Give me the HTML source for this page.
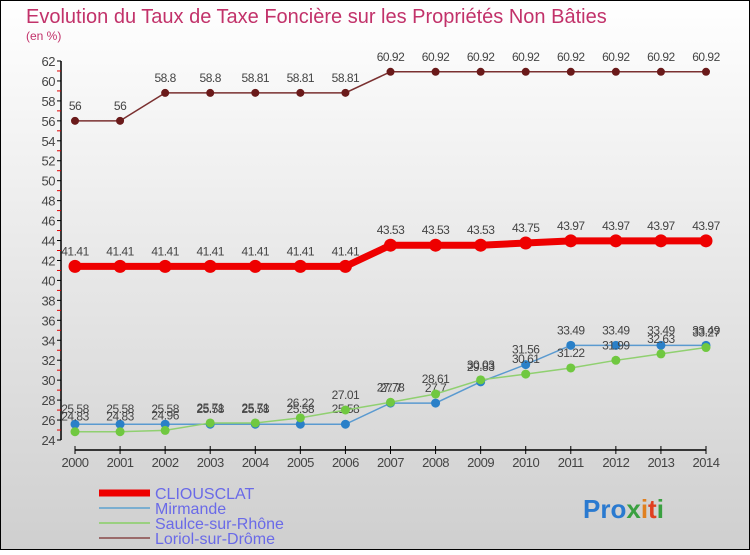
<!DOCTYPE html>
<html><head><meta charset="utf-8"><style>
html,body{margin:0;padding:0}
body{width:750px;height:550px;overflow:hidden;font-family:"Liberation Sans",sans-serif}
</style></head><body>
<svg id="chart" width="750" height="550" xmlns="http://www.w3.org/2000/svg" font-family="Liberation Sans, sans-serif">
<defs>
<linearGradient id="bg" x1="0" y1="0" x2="0" y2="1">
<stop offset="0" stop-color="#ffffff"/><stop offset="1" stop-color="#cfcfcf"/>
</linearGradient>
</defs>
<rect x="0.5" y="0.5" width="749" height="549" fill="url(#bg)" stroke="#000"/>
<text x="26" y="23" font-size="20" fill="#c2326a">Evolution du Taux de Taxe Foncière sur les Propriétés Non Bâties</text>
<text x="26" y="40" font-size="12" fill="#c2326a">(en %)</text>
<g id="axes"></g>
<g id="series"></g>
<g id="legend">
<line x1="99" y1="493" x2="150" y2="493" stroke="#ee0000" stroke-width="7"/>
<text x="155" y="499" font-size="16" fill="#6a6ae8">CLIOUSCLAT</text>
<line x1="99" y1="508" x2="150" y2="508" stroke="#7aaed0" stroke-width="2"/>
<text x="155" y="514" font-size="16" fill="#6a6ae8">Mirmande</text>
<line x1="99" y1="523" x2="150" y2="523" stroke="#9ad080" stroke-width="2"/>
<text x="155" y="529" font-size="16" fill="#6a6ae8">Saulce-sur-Rhône</text>
<line x1="99" y1="538" x2="150" y2="538" stroke="#9a6a6a" stroke-width="2"/>
<text x="155" y="544" font-size="16" fill="#6a6ae8">Loriol-sur-Drôme</text>
</g>
<text x="583" y="518" font-size="26" font-weight="bold"><tspan fill="#2a7ad0">Pro</tspan><tspan fill="#3aa040">x</tspan><tspan fill="#e08020">i</tspan><tspan fill="#e04020">t</tspan><tspan fill="#3aa040">i</tspan></text>
</svg>
<script>
const years = [2000,2001,2002,2003,2004,2005,2006,2007,2008,2009,2010,2011,2012,2013,2014];
const cliousclat = [41.41,41.41,41.41,41.41,41.41,41.41,41.41,43.53,43.53,43.53,43.75,43.97,43.97,43.97,43.97];
const mirmande = [25.58,25.58,25.58,25.58,25.58,25.58,25.58,27.7,27.7,29.83,31.56,33.49,33.49,33.49,33.49];
const saulce = [24.83,24.83,24.96,25.71,25.71,26.22,27.01,27.78,28.61,30.03,30.61,31.22,31.99,32.63,33.27];
const loriol = [56,56,58.8,58.8,58.81,58.81,58.81,60.92,60.92,60.92,60.92,60.92,60.92,60.92,60.92];
const yTicks = [24,26,28,30,32,34,36,38,40,42,44,46,48,50,52,54,56,58,60,62];

const NS="http://www.w3.org/2000/svg";
const x = i => 75 + i*(706-75)/(years.length-1);
const y = v => 440 - (v-24)*(440-61)/(62-24);
function mk(tag, attrs, parent){const e=document.createElementNS(NS,tag);for(const k in attrs)e.setAttribute(k,attrs[k]);parent.appendChild(e);return e;}
const axes=document.getElementById('axes'), ser=document.getElementById('series');

const ya=mk('line',{x1:61,y1:61,x2:61,y2:440,stroke:'#000','stroke-width':1.5},axes);


yTicks.forEach(t=>{
  mk('line',{x1:57,y1:y(t),x2:61,y2:y(t),stroke:'#000'},axes);
  if(t<62) mk('line',{x1:57,y1:y(t+1),x2:61,y2:y(t+1),stroke:'#e00000'},axes);
  const tl=mk('text',{x:55,y:y(t)+5,'font-size':13,'text-anchor':'end',fill:'#444','letter-spacing':'-0.5'},axes);
  tl.textContent=t;
  
  
});
const xa=mk('line',{x1:75,y1:450,x2:706,y2:450,stroke:'#000','stroke-width':1.5},axes);


years.forEach((yr,i)=>{
  mk('line',{x1:x(i),y1:446,x2:x(i),y2:454,stroke:'#000'},axes);
  const tl=mk('text',{x:x(i),y:467,'font-size':13,'text-anchor':'middle',fill:'#444','letter-spacing':'-0.5'},axes);
  tl.textContent=yr;
  
  
});

function drawSeries(vals,name,color,lw,r,dot){
  const g=mk('g',{},ser);
  
  
  const ln=mk('polyline',{points:vals.map((v,i)=>x(i)+','+y(v)).join(' '),fill:'none',stroke:color,'stroke-width':lw},g);
  
  
  vals.forEach((v,i)=>{
    const c=mk('circle',{cx:x(i),cy:y(v),r:r,fill:dot},g);
    
    
    const t=mk('text',{x:x(i),y:y(v)-11,'font-size':12,'text-anchor':'middle',fill:'#444','letter-spacing':'-0.5'},g);
    t.textContent=v;
    
    
  });
}
drawSeries(loriol,'loriol','#7a3030',1.5,4,'#6a1a1a');
drawSeries(mirmande,'mirmande','#5a9ad0',1.5,4.5,'#2a80c8');
drawSeries(saulce,'saulce','#90d070',1.5,4.5,'#70c840');
drawSeries(cliousclat,'cliousclat','#ee0000',7,6.5,'#ee0000');
</script>
</body></html>
